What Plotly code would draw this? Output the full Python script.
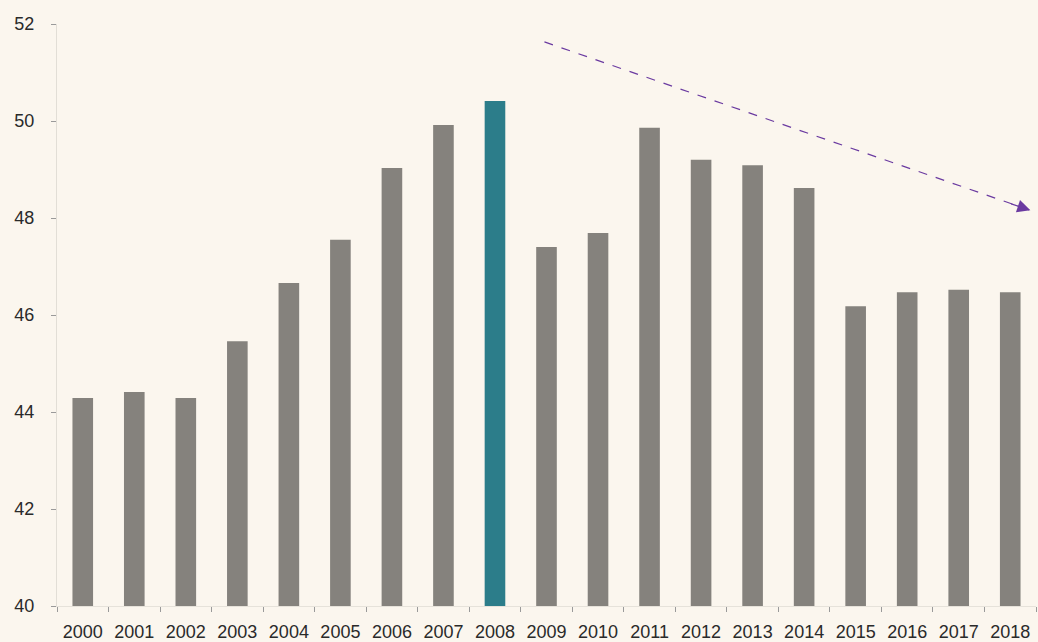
import plotly.graph_objects as go

years = [str(y) for y in range(2000, 2019)]
values = [44.29, 44.41, 44.29, 45.46, 46.66, 47.55, 49.03, 49.92, 50.41,
          47.40, 47.69, 49.86, 49.20, 49.09, 48.62, 46.18, 46.47, 46.52, 46.47]
highlight_year = "2008"

gray = "#85827D"
teal = "#2C7D8A"
colors = [teal if y == highlight_year else gray for y in years]

# trend arrow endpoints (category index, value)
arrow_start = (8.96, 51.63)
arrow_end = (18.39, 48.16)

fig = go.Figure(go.Bar(x=years, y=values, marker=dict(color=colors, line=dict(width=0)),
                       width=0.4))

# dashed trend line
fig.add_shape(type="line", xref="x", yref="y",
              x0=arrow_start[0], y0=arrow_start[1], x1=arrow_end[0], y1=arrow_end[1],
              line=dict(color="#6A3AA0", width=1.2, dash="dash"))
# arrowhead
fig.add_annotation(x=arrow_end[0], y=arrow_end[1], xref="x", yref="y",
                   ax=arrow_end[0] - 0.4, ay=arrow_end[1] + 0.14, axref="x", ayref="y",
                   showarrow=True, arrowhead=2, arrowsize=2, arrowwidth=1.3,
                   arrowcolor="#6A3AA0", text="")

fig.update_layout(
    width=1038, height=642,
    margin=dict(l=57, r=2, t=24, b=36),
    paper_bgcolor="#FBF6EE", plot_bgcolor="#FBF6EE",
    showlegend=False,
    font=dict(family="Liberation Sans, Arial, sans-serif", size=18, color="#2A2A2A"),
    bargap=0.6,
)
fig.update_xaxes(type="category", tickson="boundaries", ticks="outside", ticklen=5,
                 tickcolor="#9A9A9A", showgrid=False, showline=True,
                 linecolor="#E6E2DA", linewidth=1, tickfont=dict(size=18),
                 ticklabelstandoff=9, range=[-0.5, 18.5], automargin=False)
fig.update_yaxes(range=[40, 52], dtick=2, ticks="outside", ticklen=5,
                 tickcolor="#9A9A9A", showgrid=False, showline=True,
                 linecolor="#E2DED6", linewidth=1, zeroline=False,
                 tickfont=dict(size=18), ticklabelstandoff=13, automargin=False)

fig.write_html("out.html")
